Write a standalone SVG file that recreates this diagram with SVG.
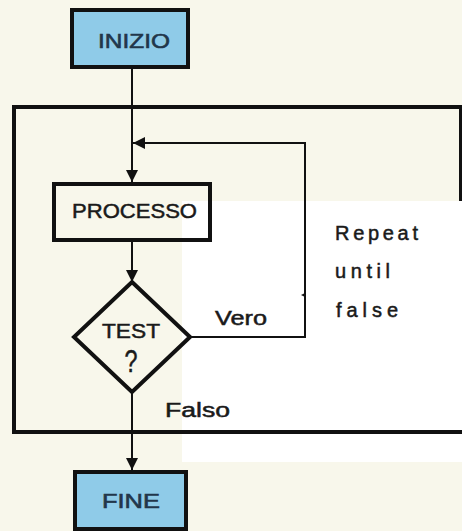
<svg xmlns="http://www.w3.org/2000/svg" width="462" height="531" viewBox="0 0 462 531">
  <style>
    .box { stroke: #111; stroke-width: 4; }
    .term { fill: #8fcbe8; }
    .proc { fill: none; }
    .line { fill: none; stroke: #111; stroke-width: 2; }
    .frame { fill: none; stroke: #111; stroke-width: 4; }
    .lbl { font-family: "Liberation Sans", Arial, sans-serif; font-size: 20px; fill: #1a1a1a; stroke: #1a1a1a; stroke-width: 0.5; }
    .tlbl { font-family: "Liberation Sans", Arial, sans-serif; font-size: 21px; fill: #22364a; stroke: #22364a; stroke-width: 0.6; text-anchor: middle; }
    .nlbl { font-family: "Liberation Sans", Arial, sans-serif; font-size: 21px; fill: #1a1a1a; stroke: #1a1a1a; stroke-width: 0.5; text-anchor: middle; }
  </style>
  <defs>
    <marker id="arr" viewBox="0 0 12 12" refX="12" refY="6" markerWidth="12" markerHeight="12" markerUnits="userSpaceOnUse" orient="auto">
      <path d="M0,0 L12,6 L0,12 Z" fill="#111"/>
    </marker>
  </defs>

  <rect x="0" y="0" width="462" height="531" fill="#f8f7eb"/>
  <rect x="182" y="201" width="280" height="261" fill="#ffffff"/>

  <g id="loop-frame">
    <path class="frame" d="M461,201 V107 H14 V432 H462"/>
  </g>

  <g id="connectors">
    <path class="line" d="M132,68 V182" marker-end="url(#arr)"/>
    <path class="line" d="M190,337 H305 V143 H133" marker-end="url(#arr)"/>
    <path class="line" d="M132,242 V282" marker-end="url(#arr)"/>
    <path class="line" d="M132,392 V470" marker-end="url(#arr)"/>
    <path d="M305,293 L301,295 L305,297 Z" fill="#111"/>
  </g>

  <g id="node-inizio">
    <rect class="box term" x="72" y="10" width="116" height="57"/>
    <text class="tlbl" x="134" y="48" textLength="72" lengthAdjust="spacingAndGlyphs">INIZIO</text>
  </g>

  <g id="node-processo">
    <rect class="box proc" x="54" y="184" width="156" height="56"/>
    <text class="nlbl" x="134.5" y="218" textLength="125" lengthAdjust="spacingAndGlyphs">PROCESSO</text>
  </g>

  <g id="node-test">
    <path class="box" fill="none" d="M132,282 L190,337 L132,392 L74,337 Z"/>
    <text class="nlbl" x="131" y="338" textLength="58" lengthAdjust="spacingAndGlyphs">TEST</text>
    <text class="nlbl" x="131" y="372" style="font-size:31px" textLength="13" lengthAdjust="spacingAndGlyphs">?</text>
  </g>

  <g id="node-fine">
    <rect class="box term" x="75" y="472" width="111" height="57"/>
    <text class="tlbl" x="131" y="508" textLength="58" lengthAdjust="spacingAndGlyphs">FINE</text>
  </g>

  <g id="labels">
    <text class="lbl" x="215" y="325" textLength="52" lengthAdjust="spacingAndGlyphs">Vero</text>
    <text class="lbl" x="165" y="417" textLength="65" lengthAdjust="spacingAndGlyphs">Falso</text>
    <text class="lbl" x="335" y="240" textLength="83" lengthAdjust="spacing">Repeat</text>
    <text class="lbl" x="335" y="278" textLength="55" lengthAdjust="spacing">until</text>
    <text class="lbl" x="336" y="317" textLength="62" lengthAdjust="spacing">false</text>
  </g>
</svg>
